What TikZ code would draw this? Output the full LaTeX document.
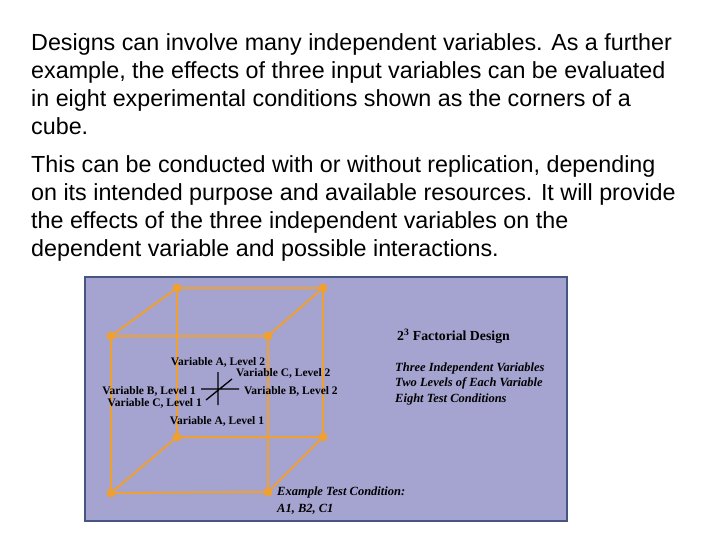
\documentclass[tikz,border=0pt]{standalone}
\usepackage{fontspec}
\setmainfont{Liberation Serif}
\newfontfamily\sansf{Liberation Sans}
\begin{document}
\begin{tikzpicture}[x=1pt,y=-1pt,
  lab/.style={font=\bfseries\fontsize{11.5}{12}\selectfont,inner sep=0pt},
  ilab/.style={font=\bfseries\itshape\fontsize{12.5}{13}\selectfont,inner sep=0pt,anchor=west},
  para/.style={font=\sansf\fontsize{23.3}{28}\selectfont,anchor=north west,inner sep=0pt,align=left}]
\useasboundingbox (0,0) rectangle (720,540);
\fill[white] (0,0) rectangle (720,540);
\node[para] (t1) at (31,33) {Designs can involve many independent variables. As a further\\example, the effects of three input variables can be evaluated\\in eight experimental conditions shown as the corners of a\\cube.};
\node[para] (t2) at (31,155) {This can be conducted with or without replication, depending\\on its intended purpose and available resources. It will provide\\the effects of the three independent variables on the\\dependent variable and possible interactions.};
\draw[fill={rgb,255:red,165;green,163;blue,208}, draw={rgb,255:red,70;green,85;blue,130}, line width=1.5pt] (85,277) rectangle (567,521);
\definecolor{edgec}{RGB}{238,160,50}
\tikzset{edge/.style={draw=edgec,line width=2pt}, dot/.style={circle,fill=edgec,inner sep=0pt,minimum size=9pt}}
\node[dot] (btl) at (177,288) {}; \node[dot] (btr) at (323,288) {};
\node[dot] (ftl) at (111,336) {}; \node[dot] (ftr) at (268,336) {};
\node[dot] (bbl) at (177,437) {}; \node[dot] (bbr) at (323,437) {};
\node[dot] (fbl) at (111,493) {}; \node[dot] (fbr) at (268,492) {};
\draw[edge] (btl.center)--(btr.center)--(bbr.center)--(bbl.center)--cycle
  (ftl.center)--(ftr.center)--(fbr.center)--(fbl.center)--cycle
  (btl.center)--(ftl.center) (btr.center)--(ftr.center) (bbl.center)--(fbl.center) (bbr.center)--(fbr.center);
\coordinate (vt) at (218,372); \coordinate (vb) at (218,405);
\coordinate (hl) at (201,389); \coordinate (hr) at (239,389);
\coordinate (dl) at (206,400); \coordinate (du) at (232,379);
\draw[line width=1.3pt] (vt)--(vb) (hl)--(hr) (dl)--(du);
\node[lab] (a2) at (218,362) {Variable A, Level 2};
\node[lab,anchor=west] (c2) at (236,373) {Variable C, Level 2};
\node[lab,anchor=east] (b1) at (196,391) {Variable B, Level 1};
\node[lab,anchor=east] (c1) at (202,403) {Variable C, Level 1};
\node[lab,anchor=west] (b2) at (244,391) {Variable B, Level 2};
\node[lab] (a1) at (217,421) {Variable A, Level 1};
\node[lab,anchor=west,font=\bfseries\fontsize{13.8}{14}\selectfont] (ttl) at (397,336) {2\textsuperscript{3} Factorial Design};
\node[ilab] (i1) at (395,368) {Three Independent Variables};
\node[ilab] (i2) at (395,383) {Two Levels of Each Variable};
\node[ilab] (i3) at (395,399) {Eight Test Conditions};
\node[ilab] (e1) at (277,492) {Example Test Condition:};
\node[ilab] (e2) at (277,509) {A1, B2, C1};
\end{tikzpicture}
\end{document}
